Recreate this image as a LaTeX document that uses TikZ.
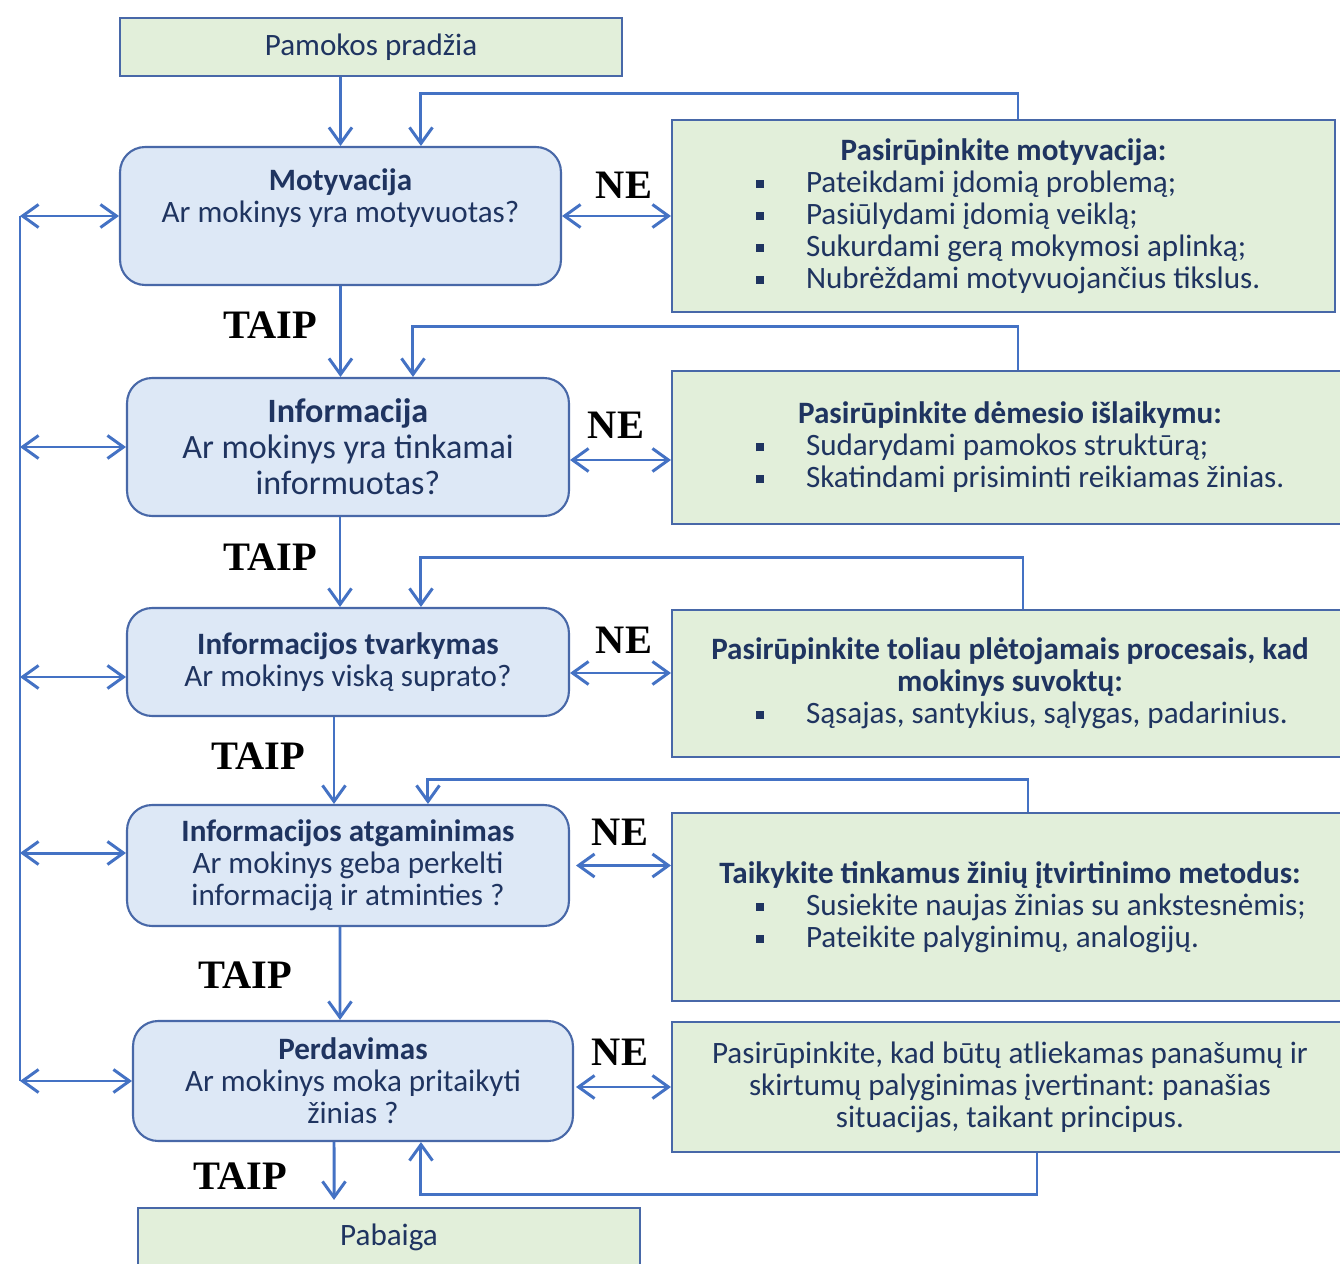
\documentclass[tikz,border=0pt]{standalone}
\usepackage{fontspec}
\setmainfont{Carlito}
\newfontfamily\zymefont{Liberation Serif}
\usetikzlibrary{arrows.meta}
\frenchspacing
\definecolor{linija}{RGB}{68,114,196}
\definecolor{remas}{RGB}{72,104,168}
\definecolor{melsva}{RGB}{221,232,246}
\definecolor{zalsva}{RGB}{226,239,218}
\definecolor{tekstas}{RGB}{31,52,96}
\tikzset{
  klausimas/.style={draw=remas, fill=melsva, line width=1.2pt, rounded corners=0.5cm,
    align=center, text=tekstas, minimum width=8.84cm},
  patarimas/.style={draw=remas, fill=zalsva, line width=1.2pt, align=flush center,
    text=tekstas, inner xsep=0pt, text width=#1},
  patarimas/.default=13.52cm,
  riba/.style={draw=remas, fill=zalsva, line width=1.2pt, text=tekstas,
    minimum width=10.04cm, minimum height=1.16cm},
  rodykle/.style={draw=linija, line width=1.7pt, -{Straight Barb[length=0.32cm,width=0.46cm]}},
  abi/.style={rodykle, {Straight Barb[length=0.32cm,width=0.46cm]}-{Straight Barb[length=0.32cm,width=0.46cm]}},
  zyme/.style={font=\zymefont\fontsize{23}{24}\selectfont\bfseries}
}
\newcommand{\punktas}[1]{\makebox[\hsize][l]{\hspace{1.68cm}\rule[0.09cm]{0.16cm}{0.16cm}\hspace{0.84cm}#1}}

\begin{document}
\begin{tikzpicture}[x=0.02cm, y=-0.02cm, font=\fontsize{17.7}{18.2}\selectfont]
	\useasboundingbox (0,0) rectangle (1340,1264);
	\clip (0,0) rectangle (1340,1264);

	\node[riba] (pradzia) at (371,47) {Pamokos pradžia};

	\node[klausimas, minimum width=8.82cm, minimum height=2.76cm] (motyv) at (340.5,216)
		{\textbf{Motyvacija}\\Ar mokinys yra motyvuotas?\\ \strut};
	\node[klausimas, minimum height=2.76cm, font=\fontsize{19.4}{20.5}\selectfont] (info) at (348,447)
		{\textbf{Informacija}\\Ar mokinys yra tinkamai\\informuotas?};
	\node[klausimas, minimum height=2.16cm] (tvark) at (348,662)
		{\textbf{Informacijos tvarkymas}\\Ar mokinys viską suprato?};
	\node[klausimas, minimum height=2.42cm] (atgam) at (348,865.5)
		{\textbf{Informacijos atgaminimas}\\Ar mokinys geba perkelti\\informaciją ir atminties ?};
	\node[klausimas, minimum width=8.8cm, minimum height=2.4cm] (perd) at (353,1081)
		{\textbf{Perdavimas}\\Ar mokinys moka pritaikyti\\žinias ?};
	\node[riba] (pabaiga) at (389,1237) {Pabaiga};

	\node[patarimas=13.26cm, minimum height=3.84cm] (p1) at (1003.5,216)
		{\textbf{Pasirūpinkite motyvacija:}\\
		\punktas{Pateikdami įdomią problemą;}\\
		\punktas{Pasiūlydami įdomią veiklą;}\\
		\punktas{Sukurdami gerą mokymosi aplinką;}\\
		\punktas{Nubrėždami motyvuojančius tikslus.}};
	\node[patarimas, minimum height=3.06cm] (p2) at (1010,447.5)
		{\textbf{Pasirūpinkite dėmesio išlaikymu:}\\
		\punktas{Sudarydami pamokos struktūrą;}\\
		\punktas{Skatindami prisiminti reikiamas žinias.}};
	\node[patarimas, minimum height=2.94cm] (p3) at (1010,683.5)
		{\textbf{Pasirūpinkite toliau plėtojamais procesais, kad}\\
		\textbf{mokinys suvoktų:}\\
		\punktas{Sąsajas, santykius, sąlygas, padarinius.}};
	\node[patarimas, minimum height=3.76cm] (p4) at (1010,907)
		{\textbf{Taikykite tinkamus žinių įtvirtinimo metodus:}\\
		\punktas{Susiekite naujas žinias su ankstesnėmis;}\\
		\punktas{Pateikite palyginimų, analogijų.}};
	\node[patarimas, minimum height=2.6cm] (p5) at (1010,1087)
		{Pasirūpinkite, kad būtų atliekamas panašumų ir\\
		skirtumų palyginimas įvertinant: panašias\\
		situacijas, taikant principus.};

	\node[zyme] (ne1) at (624,185) {NE};
	\node[zyme] (ne2) at (616,425) {NE};
	\node[zyme] (ne3) at (624,640) {NE};
	\node[zyme] (ne4) at (620,832) {NE};
	\node[zyme] (ne5) at (620,1052) {NE};
	\node[zyme] (taip1) at (270,325) {TAIP};
	\node[zyme] (taip2) at (270,557) {TAIP};
	\node[zyme] (taip3) at (258,756) {TAIP};
	\node[zyme] (taip4) at (245,975) {TAIP};
	\node[zyme] (taip5) at (240,1176) {TAIP};

	% TAIP
	\draw[rodykle] (pradzia.south -| motyv.north) -- (motyv.north);
	\draw[rodykle] (motyv.south) -- (motyv.south |- info.north);
	\draw[rodykle] ([xshift=-0.16cm]info.south) -- ([xshift=-0.16cm]tvark.north);
	\draw[rodykle] ([xshift=-0.28cm]tvark.south) -- ([xshift=-0.28cm]atgam.north);
	\draw[rodykle] ([xshift=-0.16cm]atgam.south) -- ([xshift=-0.26cm]perd.north);
	\draw[rodykle, shorten >=0.14cm] ([xshift=-0.38cm]perd.south) -- ([xshift=-1.1cm]pabaiga.north);

	% NE
	\draw[abi] (motyv.east) -- (motyv.east -| p1.west);
	\draw[abi] ([yshift=-0.26cm]info.east) -- ([yshift=-0.26cm]info.east -| p2.west);
	\draw[abi] ([yshift=-0.22cm]tvark.east) -- ([yshift=-0.22cm]tvark.east -| p3.west);
	\draw[abi, shorten <=0.12cm] (atgam.east) -- (atgam.east -| p4.west);
	\draw[abi, shorten <=0.04cm] ([yshift=-0.12cm]perd.east) -- ([yshift=-0.12cm]perd.east -| p5.west);

	% atgal
	\draw[rodykle] ([xshift=0.29cm]p1.north) -- ++(0,-25) -| ([xshift=1.61cm]motyv.north);
	\draw[rodykle] ([xshift=0.16cm]p2.north) -- ++(0,-43) -| ([xshift=1.3cm]info.north);
	\draw[rodykle] ([xshift=0.26cm]p3.north) -- ++(0,-51) -| ([xshift=1.46cm]tvark.north);
	\draw[rodykle] ([xshift=0.36cm]p4.north) -- ++(0,-32) -| ([xshift=1.6cm]atgam.north);
	\draw[rodykle] ([xshift=0.54cm]p5.south) -- ++(0,41) -| ([xshift=1.36cm]perd.south);

	% kaire
	\coordinate (kaire) at (20,0);
	\draw[draw=linija, line width=1.7pt] (motyv.west -| kaire) -- (perd.west -| kaire);
	\draw[abi] (motyv.west -| kaire) -- (motyv.west);
	\draw[abi] (info.west -| kaire) -- (info.west);
	\draw[abi] ([yshift=-0.3cm]tvark.west -| kaire) -- ([yshift=-0.3cm]tvark.west);
	\draw[abi] ([yshift=0.25cm]atgam.west -| kaire) -- ([yshift=0.25cm]atgam.west);
	\draw[abi] (perd.west -| kaire) -- (perd.west);
\end{tikzpicture}
\end{document}
